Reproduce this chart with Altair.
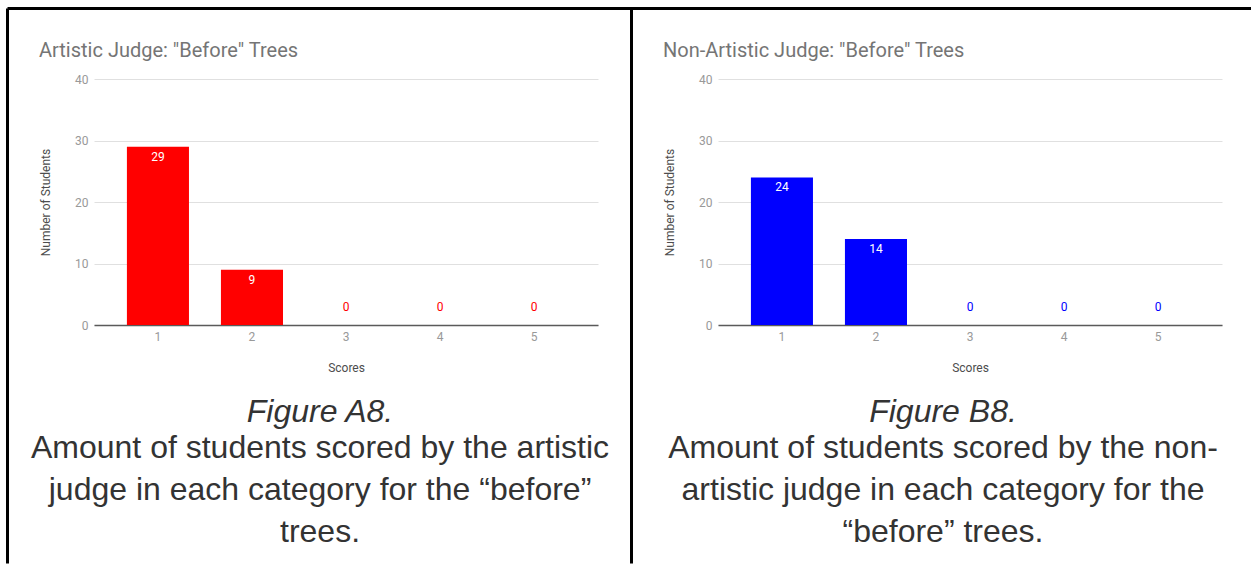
import altair as alt
import pandas as pd

# Score categories and number of students per score, one series per judge
scores = [1, 2, 3, 4, 5]
artistic_counts = [29, 9, 0, 0, 0]
non_artistic_counts = [24, 14, 0, 0, 0]

y_ticks = [0, 10, 20, 30, 40]

artistic_title = 'Artistic Judge: "Before" Trees'
non_artistic_title = 'Non-Artistic Judge: "Before" Trees'

artistic_caption = [
    "Figure A8.",
    "Amount of students scored by the artistic",
    "judge in each category for the \u201cbefore\u201d",
    "trees.",
]
non_artistic_caption = [
    "Figure B8.",
    "Amount of students scored by the non-",
    "artistic judge in each category for the",
    "\u201cbefore\u201d trees.",
]

PLOT_W, PLOT_H = 504, 246
CHART_FONT = "Roboto"
CAPTION_FONT = "Liberation Sans"
ONE_ROW = alt.Data(values=[{}])


def text_line(s, x, y, size, color, font, align="left", style="normal"):
    return alt.Chart(ONE_ROW).mark_text(
        text=s, align=align, baseline="alphabetic", fontSize=size,
        color=color, font=font, fontStyle=style,
    ).encode(x=alt.value(x), y=alt.value(y))


def rule(x, x2, y, y2):
    return alt.Chart(ONE_ROW).mark_rule(color="black", strokeWidth=3).encode(
        x=alt.value(x), x2=alt.value(x2), y=alt.value(y), y2=alt.value(y2)
    )


def panel(title, counts, color, caption, borders, caption_x):
    df = pd.DataFrame({"score": scores, "students": counts})
    base = alt.Chart(df).encode(
        x=alt.X(
            "score:O",
            scale=alt.Scale(paddingInner=0.34, paddingOuter=0.35),
            axis=alt.Axis(
                title="Scores", labelAngle=0, ticks=False, grid=False,
                domainColor="#5a5a5a", domainWidth=1.5,
                labelPadding=6, labelColor="#999999", labelFontSize=12,
                labelFont=CHART_FONT,
                titleFont=CHART_FONT, titleFontSize=12, titleFontWeight="normal",
                titleColor="#4d4d4d", titleY=42, titleBaseline="middle",
            ),
        ),
        y=alt.Y(
            "students:Q",
            scale=alt.Scale(domain=[0, 40]),
            axis=alt.Axis(
                values=y_ticks, title="Number of Students",
                domain=False, ticks=False, labelPadding=6,
                gridColor="#e0e0e0", gridWidth=1,
                labelColor="#999999", labelFontSize=12, labelFont=CHART_FONT,
                titleFont=CHART_FONT, titleFontSize=12, titleFontWeight="normal",
                titleColor="#4d4d4d", titleX=-49, titleY=PLOT_H / 2,
                titleAngle=-90, titleAlign="center", titleBaseline="middle",
            ),
        ),
    )
    bars = base.mark_bar(color=color)
    inside = base.transform_filter("datum.students > 0").mark_text(
        color="white", baseline="middle", dy=10, fontSize=12, font=CHART_FONT
    ).encode(text="students:Q")
    zeros = base.transform_filter("datum.students == 0").mark_text(
        color=color, baseline="middle", dy=-18, fontSize=12, font=CHART_FONT
    ).encode(text="students:Q")

    layers = [bars, inside, zeros,
              text_line(title, -55, -22, 20, "#757575", CHART_FONT)]

    # caption under the chart: italic figure label, then the description
    baselines = [343, 379, 421, 463]
    for i, (line, yb) in enumerate(zip(caption, baselines)):
        layers.append(text_line(line, caption_x, yb, 32, "#333333", CAPTION_FONT,
                                align="center",
                                style="italic" if i == 0 else "normal"))
    layers.extend(borders)
    return alt.layer(*layers).properties(width=PLOT_W, height=PLOT_H)


left = panel(
    artistic_title, artistic_counts, "#ff0000", artistic_caption,
    [rule(-86.5, -86.5, -70.5, 484.5), rule(-86.5, 538, -70.5, -70.5)],
    caption_x=226,
)
right = panel(
    non_artistic_title, non_artistic_counts, "#0000ff", non_artistic_caption,
    [rule(-86.5, -86.5, -70.5, 484.5), rule(-86.5, 533, -70.5, -70.5)],
    caption_x=225,
)

chart = (
    alt.hconcat(left, right, spacing=120, bounds="flush")
    .properties(padding={"left": 6, "top": 7, "right": 0, "bottom": 0})
    .configure_view(stroke=None)
)

chart.save("out.html", embed_options={"renderer": "svg", "actions": False})
